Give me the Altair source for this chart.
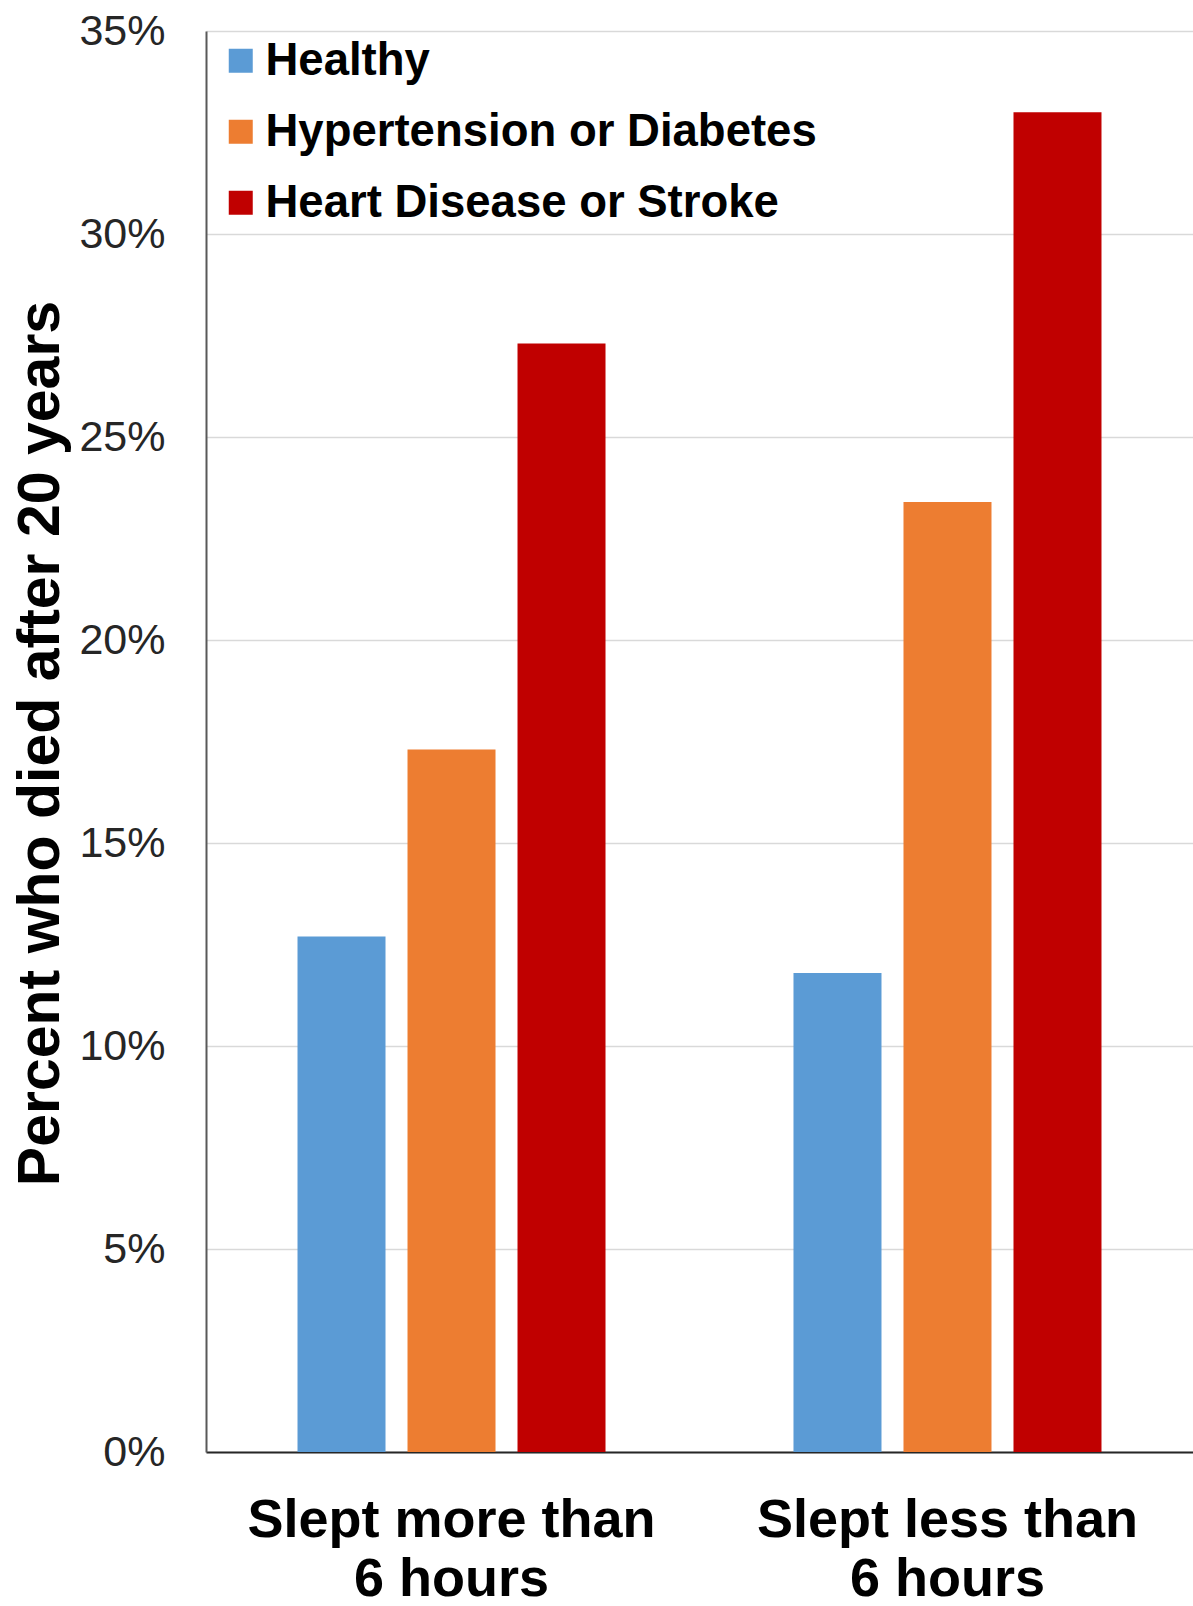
import altair as alt
import pandas as pd

groups = ["Slept more than 6 hours", "Slept less than 6 hours"]
conditions = ["Healthy", "Hypertension or Diabetes", "Heart Disease or Stroke"]
healthy = [0.127, 0.118]
hyper = [0.173, 0.234]
heart = [0.273, 0.330]
colors = ["#5B9BD5", "#ED7D31", "#C00000"]
y_ticks = [0, 0.05, 0.10, 0.15, 0.20, 0.25, 0.30, 0.35]

rows = []
for cond, vals in zip(conditions, [healthy, hyper, heart]):
    for g, v in zip(groups, vals):
        rows.append({"group": g, "condition": cond, "value": v})
df = pd.DataFrame(rows)

FONT = "Liberation Sans"

chart = alt.Chart(df).mark_bar().encode(
    x=alt.X("group:N", sort=groups,
            scale=alt.Scale(paddingInner=0.379, paddingOuter=0.1845),
            axis=alt.Axis(title=None, labelAngle=0, ticks=False,
                          labelFont=FONT, labelFontSize=54, labelFontWeight="bold",
                          labelColor="#000000", labelPadding=41, labelBaseline="top",
                          labelLineHeight=59, labelLimit=1000,
                          labelExpr="split(replace(datum.label, ' 6 hours', '|6 hours'), '|')",
                          domainColor="#262626", domainWidth=2)),
    xOffset=alt.XOffset("condition:N", sort=conditions,
                        scale=alt.Scale(paddingInner=0.2, paddingOuter=0)),
    y=alt.Y("value:Q", scale=alt.Scale(domain=[0, 0.35], nice=False),
            axis=alt.Axis(values=y_ticks, format=".0%", ticks=False,
                          title="Percent who died after 20 years",
                          titleFont=FONT, titleFontSize=59, titleFontWeight="bold",
                          titleColor="#000000", titleAngle=-90,
                          titleX=-148, titleY=712, titleBaseline="alphabetic",
                          labelFont=FONT, labelFontSize=43, labelColor="#262626",
                          labelPadding=41,
                          gridColor="#D9D9D9", gridWidth=1.5,
                          domainColor="#595959", domainWidth=2)),
    color=alt.Color("condition:N", sort=conditions,
                    scale=alt.Scale(domain=conditions, range=colors),
                    legend=alt.Legend(title=None, orient="none", legendX=12, legendY=7,
                                      padding=0,
                                      symbolType="square", symbolSize=576,
                                      symbolStrokeWidth=0,
                                      labelFont=FONT, labelFontSize=45.5,
                                      labelFontWeight="bold", labelColor="#000000",
                                      labelOffset=2, rowPadding=24,
                                      labelLimit=800)),
).properties(
    width=987, height=1421,
    padding={"left": 206, "top": 31, "right": 0, "bottom": 154},
    autosize=alt.AutoSizeParams(type="none"),
).configure_view(stroke=None)

chart.save("out.html", embed_options={"renderer": "svg", "actions": False})
